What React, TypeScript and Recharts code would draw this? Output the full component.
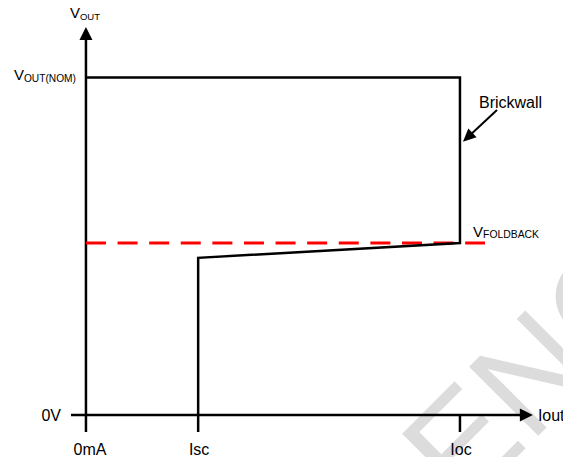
import { ComposedChart, Line, ReferenceLine, XAxis, YAxis } from "recharts";

const FONT = "'Liberation Sans', Arial, sans-serif";

// foldback characteristic: Iout (x) vs Vout (y)
const curveCurrent = [0, 10, 10, 3, 3];
const curveVoltage = [8.7, 8.7, 4.43, 4.05, 0];

// V_FOLDBACK threshold line
const foldCurrent = [0, 10.67];
const foldVoltage = [4.43, 4.43];

// axis ticks
const xTicks = [0, 3, 10];
const xTickLabels = ["0mA", "Isc", "Ioc"];
const yTicks = [0, 8.7];

// Brickwall annotation arrow (from -> to)
const brickFrom = { x: 10.99, y: 7.86 };
const brickTo = { x: 10.08, y: 7.04 };

const curveData = curveCurrent.map((i, k) => ({ i, v: curveVoltage[k] }));
const foldData = foldCurrent.map((i, k) => ({ i, v: foldVoltage[k] }));

function arrowHead(x1: number, y1: number, x2: number, y2: number, len: number, half: number) {
  const dx = x2 - x1;
  const dy = y2 - y1;
  const d = Math.hypot(dx, dy) || 1;
  const ux = dx / d;
  const uy = dy / d;
  const bx = x2 - ux * len;
  const by = y2 - uy * len;
  return `${x2},${y2} ${bx - uy * half},${by + ux * half} ${bx + uy * half},${by - ux * half}`;
}

function Arrow(props: any) {
  const { x1, y1, x2, y2, len = 13, half = 6.5, width = 2.5 } = props;
  const d = Math.hypot(x2 - x1, y2 - y1) || 1;
  const ex = x2 - ((x2 - x1) / d) * (len - 2);
  const ey = y2 - ((y2 - y1) / d) * (len - 2);
  return (
    <g>
      <line x1={x1} y1={y1} x2={ex} y2={ey} stroke="#000" strokeWidth={width} />
      <polygon points={arrowHead(x1, y1, x2, y2, len, half)} fill="#000" />
      {props.children}
    </g>
  );
}

function YTick(props: any) {
  const { x, y, payload } = props;
  if (payload.value === 0) {
    return (
      <text x={x - 10} y={y + 6} textAnchor="end" fontSize={16} fontFamily={FONT} fill="#000">
        0V
      </text>
    );
  }
  return (
    <text x={x + 5} y={y + 3} textAnchor="end" fontFamily={FONT} fill="#000">
      <tspan fontSize={15}>V</tspan>
      <tspan fontSize={10.2} dy={1.5}>OUT(NOM)</tspan>
    </text>
  );
}

function XTick(props: any) {
  const { x, y, payload } = props;
  const label = xTickLabels[xTicks.indexOf(payload.value)] ?? "";
  const shift = payload.value === 0 ? 4 : 1;
  return (
    <text x={x + shift} y={y + 23} textAnchor="middle" fontSize={16} fontFamily={FONT} fill="#000">
      {label}
    </text>
  );
}

function FoldLabel(props: any) {
  const { x, y, index } = props;
  if (index !== foldData.length - 1) return null;
  return (
    <text x={x - 12} y={y - 6} fontFamily={FONT} fill="#000">
      <tspan fontSize={15}>V</tspan>
      <tspan fontSize={10.4} dy={1}>FOLDBACK</tspan>
    </text>
  );
}

export default function App() {
  return (
    <div style={{ position: "absolute", left: 0, top: 0, width: 563, height: 457, background: "#fff" }}>
      <svg width={563} height={457} style={{ position: "absolute", left: 0, top: 0 }}>
        <text
          x={463}
          y={511}
          transform="rotate(-45 463 511)"
          fontSize={142}
          fontFamily={FONT}
          fill="#dcdcdc"
        >
          ENGLISH
        </text>
      </svg>
      <div style={{ position: "absolute", left: 0, top: 0 }}>
        <ComposedChart width={563} height={457} margin={{ top: 27, right: 28.24, left: 11, bottom: 12 }}>
          <XAxis
            dataKey="i"
            type="number"
            domain={[-0.4, 12]}
            allowDataOverflow
            ticks={xTicks}
            interval={0}
            axisLine={false}
            tickSize={17}
            tickMargin={0}
            stroke="#000"
            tickLine={{ stroke: "#000", strokeWidth: 2.5 }}
            tick={<XTick />}
            height={30}
          />
          <YAxis
            type="number"
            domain={[0, 10]}
            allowDataOverflow
            ticks={yTicks}
            interval={0}
            axisLine={false}
            tickLine={false}
            tickSize={0}
            tickMargin={0}
            width={60}
            tick={<YTick />}
          />
          <ReferenceLine
            segment={[{ x: -0.4, y: 0 }, { x: 11.95, y: 0 }]}
            shape={(p: any) => (
              <Arrow {...p}>
                <text x={p.x2 + 5} y={p.y2 + 6} fontSize={16} fontFamily={FONT} fill="#000">
                  Iout
                </text>
              </Arrow>
            )}
          />
          <ReferenceLine
            segment={[{ x: 0, y: 0 }, { x: 0, y: 10 }]}
            shape={(p: any) => (
              <Arrow {...p}>
                <text x={p.x2 - 16} y={p.y2 - 9} fontFamily={FONT} fill="#000">
                  <tspan fontSize={15}>V</tspan>
                  <tspan fontSize={9.5} dy={2}>OUT</tspan>
                </text>
              </Arrow>
            )}
          />
          <ReferenceLine
            segment={[brickFrom, brickTo]}
            shape={(p: any) => (
              <Arrow {...p} len={13} half={6} width={2}>
                <text x={p.x1 - 18} y={p.y1 - 2} fontSize={16} fontFamily={FONT} fill="#000">
                  Brickwall
                </text>
              </Arrow>
            )}
          />
          <Line
            data={foldData}
            dataKey="v"
            type="linear"
            stroke="#ff0000"
            strokeWidth={3}
            strokeDasharray="20 11.6"
            dot={false}
            activeDot={false}
            isAnimationActive={false}
            label={<FoldLabel />}
          />
          <Line
            data={curveData}
            dataKey="v"
            type="linear"
            stroke="#000"
            strokeWidth={2.5}
            strokeLinejoin="miter"
            dot={false}
            activeDot={false}
            isAnimationActive={false}
          />
        </ComposedChart>
      </div>
    </div>
  );
}
